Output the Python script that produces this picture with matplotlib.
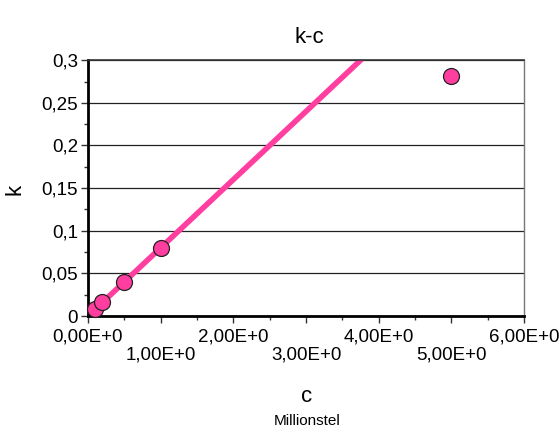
import numpy as np
import matplotlib.pyplot as plt
from matplotlib.ticker import MultipleLocator, FixedLocator

plt.rcParams["font.family"] = ["Liberation Sans", "DejaVu Sans"]

# measured points (c in Millionstel, k)
c_vals = [0.1, 0.2, 0.5, 1.0, 5.0]
k_vals = [0.008, 0.016, 0.04, 0.08, 0.282]

# trend line end points
line_c = [0.1, 4.0]
line_k = [0.008, 0.32]

x_ticks = [0, 1, 2, 3, 4, 5, 6]
x_labels = ["0,00E+0", "1,00E+0", "2,00E+0", "3,00E+0",
            "4,00E+0", "5,00E+0", "6,00E+0"]
y_ticks = [0, 0.05, 0.1, 0.15, 0.2, 0.25, 0.3]
y_labels = ["0", "0,05", "0,1", "0,15", "0,2", "0,25", "0,3"]

PINK = "#FF3EA0"

fig = plt.figure(figsize=(5.6, 4.3), dpi=100)
ax = fig.add_axes([0.157, 0.265, 0.779, 0.595])

ax.plot(line_c, line_k, color=PINK, linewidth=4, zorder=2,
        solid_capstyle="butt")
ax.plot(c_vals, k_vals, linestyle="none", marker="o", markersize=11.5,
        markerfacecolor=PINK, markeredgecolor="#222222",
        markeredgewidth=0.9, zorder=3, clip_on=False)

ax.set_xlim(0, 6)
ax.set_ylim(0, 0.3)

ax.xaxis.set_major_locator(FixedLocator(x_ticks))
ax.set_xticklabels([lab if i % 2 == 0 else "\n" + lab
                    for i, lab in enumerate(x_labels)],
                   linespacing=1.05)
ax.xaxis.set_minor_locator(MultipleLocator(0.5))
ax.yaxis.set_major_locator(FixedLocator(y_ticks))
ax.set_yticklabels(y_labels)
ax.yaxis.set_minor_locator(MultipleLocator(0.025))

ax.tick_params(axis="both", which="major", labelsize=13.5, length=5,
               width=1, color="#333333", direction="out")
ax.tick_params(axis="both", which="minor", length=3, width=1,
               color="#333333", direction="out")
ax.tick_params(axis="x", which="major", pad=4)
ax.tick_params(axis="y", which="major", pad=2)

ax.grid(axis="y", which="major", color="#222222", linewidth=0.9, zorder=0)
ax.set_axisbelow(True)

ax.spines["left"].set_linewidth(2)
ax.spines["left"].set_color("black")
ax.spines["bottom"].set_linewidth(2)
ax.spines["bottom"].set_color("black")
ax.spines["top"].set_linewidth(1.2)
ax.spines["top"].set_color("#333333")
ax.spines["right"].set_linewidth(1)
ax.spines["right"].set_color("#777777")

fig.text(0.553, 0.912, "k-c", ha="center", va="center", fontsize=16)
fig.text(0.027, 0.56, "k", ha="center", va="center", fontsize=16,
         rotation=90)
fig.text(0.548, 0.077, "c", ha="center", va="center", fontsize=16)
fig.text(0.548, 0.021, "Millionstel", ha="center", va="center",
         fontsize=11)

fig.savefig("out.png", dpi=100)
